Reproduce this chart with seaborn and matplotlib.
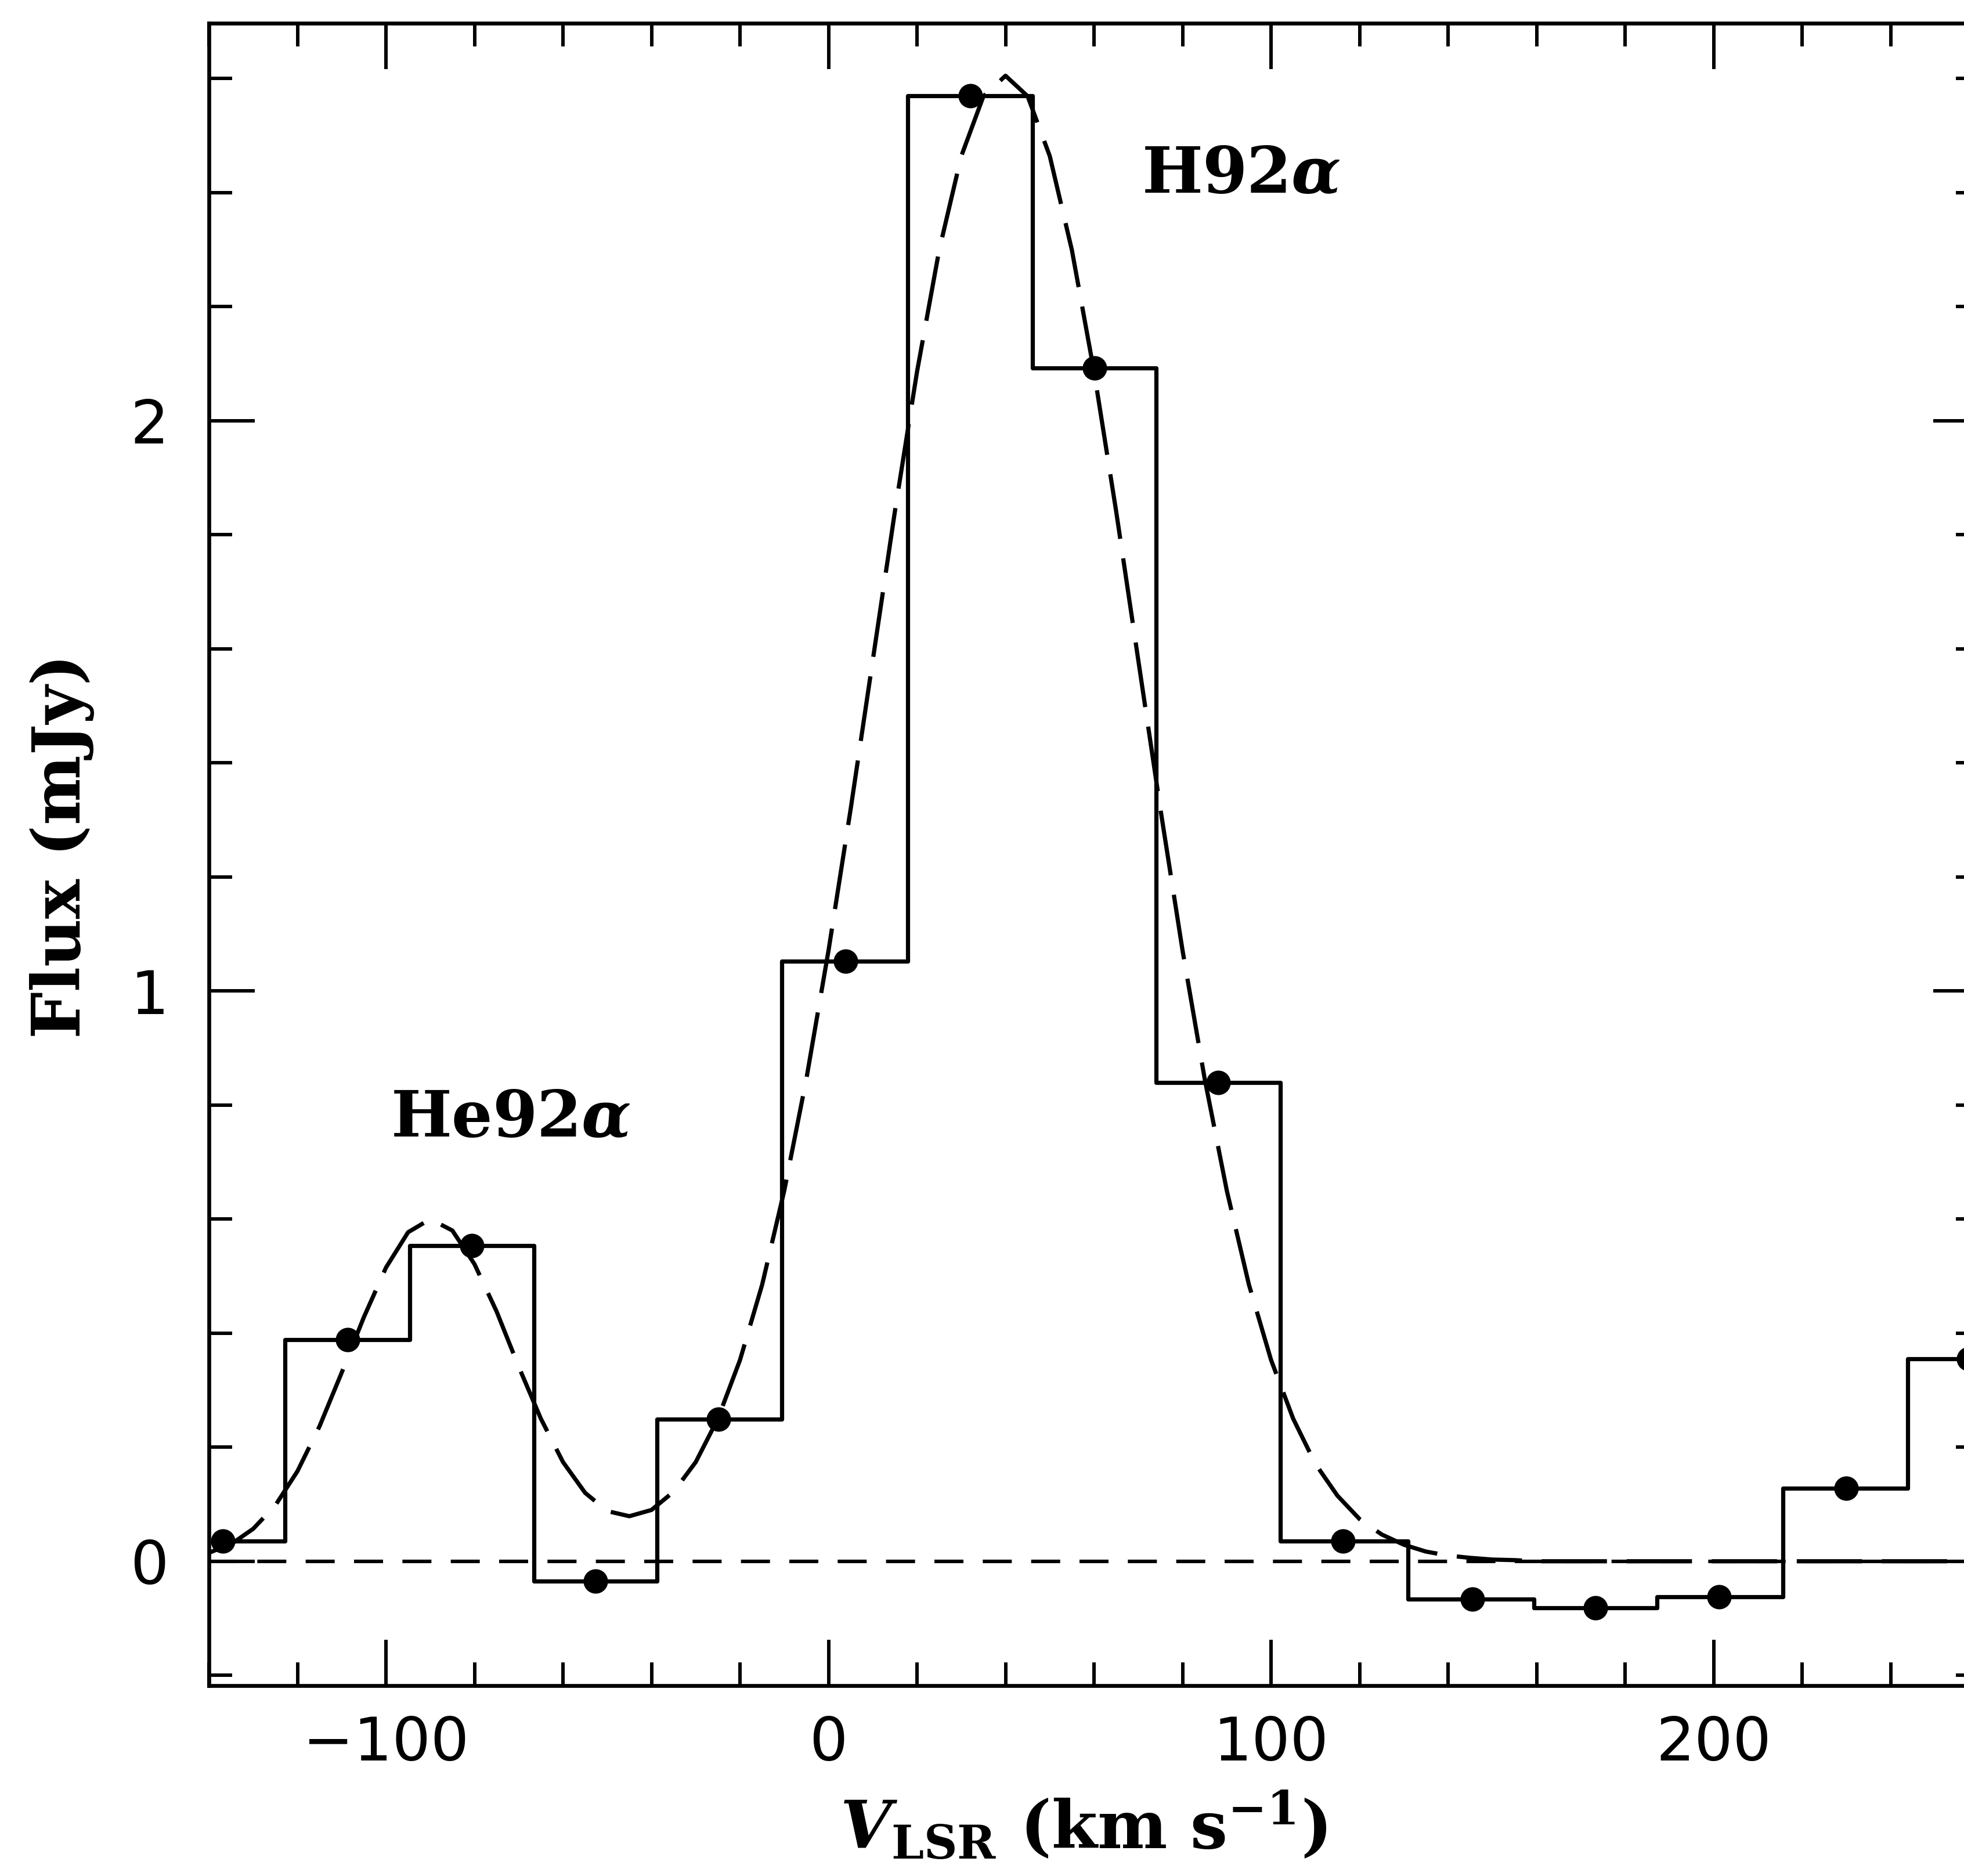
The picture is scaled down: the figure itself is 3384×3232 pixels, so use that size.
import matplotlib
matplotlib.use("Agg")
import matplotlib.pyplot as plt
import seaborn as sns
import pandas as pd
from matplotlib.ticker import MultipleLocator, FixedLocator

# ---- data ----
velocity = [-136.9, -108.7, -80.6, -52.6, -24.8, 3.8, 32.1, 60.1, 88.0,
            116.3, 145.5, 173.3, 201.2, 230.0, 257.6]
flux = [0.035, 0.389, 0.553, -0.035, 0.249, 1.052, 2.570, 2.092, 0.840,
        0.035, -0.066, -0.082, -0.062, 0.128, 0.355]

# dashed fit curve, sampled every 5 km/s
fit_velocity = list(range(-140, 265, 5))
fit_flux = [0.015, 0.030, 0.057, 0.098, 0.158, 0.237, 0.331, 0.428, 0.515, 0.577,
            0.600, 0.580, 0.521, 0.438, 0.341, 0.250, 0.174, 0.120, 0.088, 0.079,
            0.090, 0.122, 0.174, 0.250, 0.353, 0.485, 0.650, 0.846, 1.071, 1.319,
            1.580, 1.841, 2.086, 2.299, 2.464, 2.569, 2.605, 2.569, 2.464, 2.299,
            2.086, 1.841, 1.580, 1.319, 1.071, 0.846, 0.650, 0.485, 0.353, 0.250,
            0.171, 0.115, 0.074, 0.047, 0.029, 0.017, 0.010, 0.006, 0.003, 0.002,
            0.0, 0.0, 0.0, 0.0, 0.0, 0.0, 0.0, 0.0, 0.0, 0.0,
            0.0, 0.0, 0.0, 0.0, 0.0, 0.0, 0.0, 0.0, 0.0, 0.0, 0.0]

x_ticks = [-100, 0, 100, 200]
y_ticks = [0, 1, 2]
line_labels = ["He92$\\alpha$", "H92$\\alpha$"]
line_label_pos = [(-99.0, 0.745), (70.8, 2.400)]

spec = pd.DataFrame({"v": velocity, "f": flux})
fit = pd.DataFrame({"v": fit_velocity, "f": fit_flux})

sns.set_theme(style="ticks")
plt.rcParams.update({
    "font.family": ["DejaVu Sans"],
    "mathtext.fontset": "custom",
    "mathtext.it": "DejaVu Serif:italic:bold",
    "mathtext.rm": "DejaVu Serif:bold",
    "mathtext.bf": "DejaVu Serif:bold",
    "lines.scale_dashes": False,
    "axes.linewidth": 4.8,
    "text.color": "black",
    "axes.labelcolor": "black",
    "xtick.color": "black",
    "ytick.color": "black",
    "xtick.labelcolor": "black",
    "ytick.labelcolor": "black",
    "axes.edgecolor": "black",
})

fig = plt.figure(figsize=(33.84, 32.32), dpi=100)
ax = fig.add_axes([0.1064, 0.1015, 0.9013, 0.8861])

LW = 5.2
# zero baseline
ax.axhline(0, color="black", lw=4.4, linestyle=(0, (36, 24)), zorder=1)
# histogram spectrum
sns.lineplot(data=spec, x="v", y="f", ax=ax, color="black", lw=LW,
             drawstyle="steps-mid", zorder=2)
# gaussian fit
sns.lineplot(data=fit, x="v", y="f", ax=ax, color="black", lw=LW,
             linestyle=(0, (81, 24.5)), zorder=3)
# channel points
sns.scatterplot(data=spec, x="v", y="f", ax=ax, color="black", s=920,
                linewidth=0, zorder=4)

ax.set_xlim(-140, 260)
ax.set_ylim(-0.218, 2.697)

ax.xaxis.set_major_locator(FixedLocator(x_ticks))
ax.xaxis.set_minor_locator(MultipleLocator(20))
ax.yaxis.set_major_locator(FixedLocator(y_ticks))
ax.yaxis.set_minor_locator(MultipleLocator(0.2))
ax.tick_params(which="both", direction="in", top=True, right=True,
               color="black", labelcolor="black", width=4.3)
ax.tick_params(which="major", length=57)
ax.tick_params(which="minor", length=29)
ax.tick_params(axis="x", which="major", pad=36, labelsize=75)
ax.tick_params(axis="y", which="major", pad=50, labelsize=75)
for lab in ax.get_xticklabels() + ax.get_yticklabels():
    lab.set_fontfamily("DejaVu Sans")
    lab.set_color("black")

for sp in ax.spines.values():
    sp.set_color("black")
    sp.set_linewidth(4.8)

ax.set_xlabel(r"$V_{\mathrm{LSR}}$ (km s$^{-1}$)", fontsize=82,
              fontweight="bold", family="DejaVu Serif", color="black")
ax.set_ylabel("Flux (mJy)", fontsize=82, fontweight="bold",
              family="DejaVu Serif", color="black")
ax.xaxis.set_label_coords(0.494, -0.063)
ax.yaxis.set_label_coords(-0.0646, 0.505)

for txt, (xv, yv) in zip(line_labels, line_label_pos):
    ax.text(xv, yv, txt, fontsize=80, fontweight="bold", family="DejaVu Serif",
            ha="left", va="baseline", color="black", zorder=5)

fig.patch.set_facecolor("white")
ax.set_facecolor("white")
fig.savefig("out.png", dpi=100, facecolor="white")
